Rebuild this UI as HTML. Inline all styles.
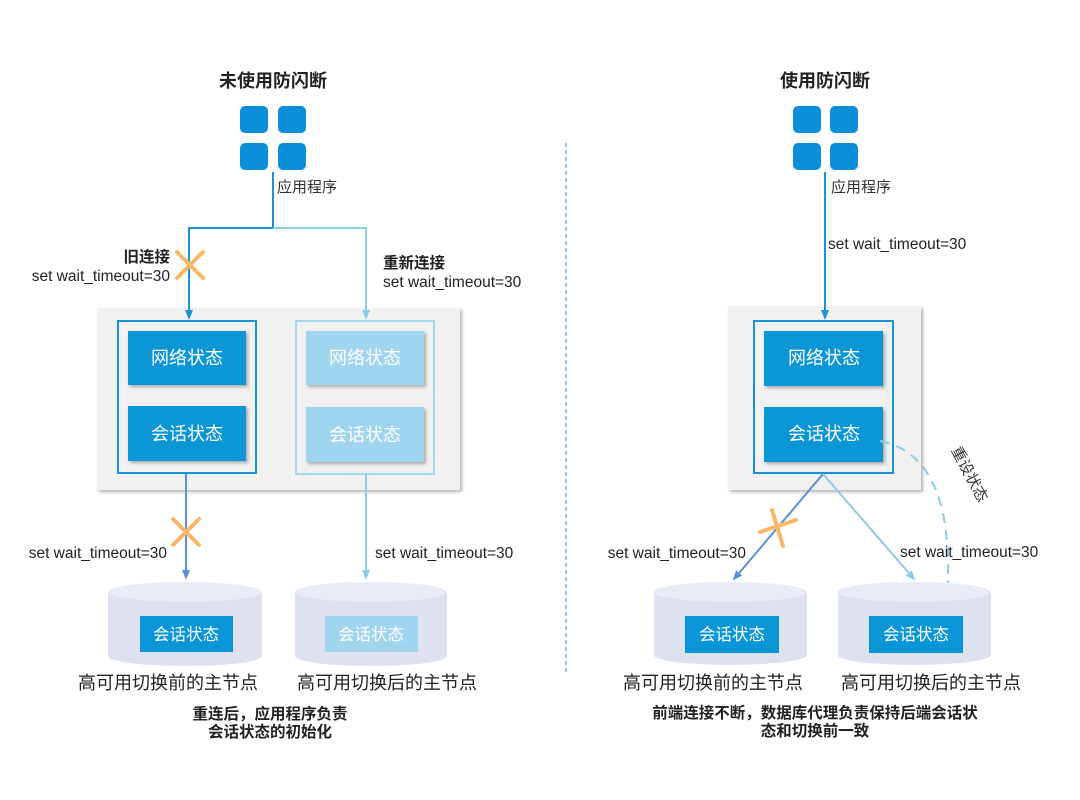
<!DOCTYPE html>
<html><head><meta charset="utf-8"><style>
html,body{margin:0;padding:0;background:#fff;width:1080px;height:800px;overflow:hidden}
text{font-family:"Liberation Sans","Noto Sans CJK SC",sans-serif}
</style></head><body>
<svg width="1080" height="800" viewBox="0 0 1080 800" xmlns="http://www.w3.org/2000/svg">
<defs>
<filter id="sh" x="-10%" y="-10%" width="130%" height="130%"><feDropShadow dx="2" dy="2" stdDeviation="1.5" flood-color="#000" flood-opacity="0.3"/></filter>
<marker id="ad" markerWidth="10" markerHeight="10" refX="8" refY="5" orient="auto" markerUnits="userSpaceOnUse"><path d="M0,1 L10,5 L0,9 Z" fill="#1a93d6"/></marker>
<marker id="al" markerWidth="10" markerHeight="10" refX="8" refY="5" orient="auto" markerUnits="userSpaceOnUse"><path d="M0,1 L10,5 L0,9 Z" fill="#8ccbe9"/></marker>
<marker id="as" markerWidth="10" markerHeight="10" refX="8" refY="5" orient="auto" markerUnits="userSpaceOnUse"><path d="M0,1 L10,5 L0,9 Z" fill="#5b8fd8"/></marker>
</defs>

<!-- LEFT -->
<text x="273" y="87" font-size="18" font-weight="bold" text-anchor="middle" fill="#222">未使用防闪断</text>
<g fill="#0a8fd8">
<rect x="240" y="106" width="28" height="27" rx="5"/><rect x="278" y="106" width="28" height="27" rx="5"/>
<rect x="240" y="143" width="28" height="27" rx="5"/><rect x="278" y="143" width="28" height="27" rx="5"/>
</g>
<text x="277" y="192" font-size="15" fill="#333">应用程序</text>

<rect x="97" y="308" width="363" height="182" fill="#f1f1f1" filter="url(#sh)"/>
<rect x="118" y="321" width="138" height="152" fill="none" stroke="#1a93d6" stroke-width="2"/>
<rect x="296" y="321" width="138" height="153" fill="none" stroke="#a6d8ef" stroke-width="2"/>
<rect x="128" y="331" width="118" height="54" fill="#0a96d6" filter="url(#sh)"/>
<rect x="128" y="406" width="118" height="55" fill="#0a96d6" filter="url(#sh)"/>
<rect x="306" y="331" width="118" height="54" fill="#9fd5ee" filter="url(#sh)"/>
<rect x="306" y="407" width="118" height="55" fill="#9fd5ee" filter="url(#sh)"/>
<g font-size="18" fill="#fff" text-anchor="middle">
<text x="187" y="364">网络状态</text><text x="187" y="440">会话状态</text>
<text x="365" y="364">网络状态</text><text x="365" y="441">会话状态</text>
</g>

<path d="M273,172 V228 H189 V318" stroke="#1a93d6" stroke-width="2" fill="none" marker-end="url(#ad)"/>
<path d="M273,228 H366 V318" stroke="#8ccbe9" stroke-width="2" fill="none" marker-end="url(#al)"/>
<g stroke="#f9b865" stroke-width="4" stroke-linecap="round"><line x1="177" y1="252" x2="203" y2="278"/><line x1="203" y1="252" x2="177" y2="278"/></g>
<text x="170" y="262" font-size="15.5" font-weight="bold" text-anchor="end" fill="#222">旧连接</text>
<text x="170" y="281" font-size="15.5" text-anchor="end" fill="#222">set wait_timeout=30</text>
<text x="383" y="268" font-size="15.5" font-weight="bold" fill="#222">重新连接</text>
<text x="383" y="287" font-size="15.5" fill="#222">set wait_timeout=30</text>

<line x1="186" y1="474" x2="186" y2="578" stroke="#5b8fd8" stroke-width="2" marker-end="url(#as)"/>
<line x1="366" y1="474" x2="366" y2="578" stroke="#8ccbe9" stroke-width="2" marker-end="url(#al)"/>
<g stroke="#f9b865" stroke-width="4" stroke-linecap="round"><line x1="173" y1="519" x2="199" y2="545"/><line x1="199" y1="519" x2="173" y2="545"/></g>
<text x="167" y="558" font-size="15.5" text-anchor="end" fill="#222">set wait_timeout=30</text>
<text x="375" y="558" font-size="15.5" fill="#222">set wait_timeout=30</text>

<g>
<path d="M108,592 V656 A77,10 0 0 0 262,656 V592 Z" fill="#dde1f0"/>
<ellipse cx="185" cy="592" rx="77" ry="10" fill="#e9ecf6"/>
<rect x="140" y="616" width="93" height="36" fill="#0a96d6"/>
<text x="186" y="640" font-size="16.5" fill="#fff" text-anchor="middle">会话状态</text>
<path d="M295,592 V656 A76,10 0 0 0 447,656 V592 Z" fill="#dde1f0"/>
<ellipse cx="371" cy="592" rx="76" ry="10" fill="#e9ecf6"/>
<rect x="325" y="616" width="93" height="36" fill="#9fd5ee"/>
<text x="371" y="640" font-size="16.5" fill="#fff" text-anchor="middle">会话状态</text>
</g>
<text x="168" y="689" font-size="18" text-anchor="middle" fill="#222">高可用切换前的主节点</text>
<text x="387" y="689" font-size="18" text-anchor="middle" fill="#222">高可用切换后的主节点</text>
<text x="270" y="719" font-size="15.5" font-weight="bold" text-anchor="middle" fill="#222">重连后，应用程序负责</text>
<text x="270" y="737" font-size="15.5" font-weight="bold" text-anchor="middle" fill="#222">会话状态的初始化</text>

<line x1="566" y1="143" x2="566" y2="672" stroke="#2a8fd0" stroke-width="1" stroke-dasharray="4,3"/>

<!-- RIGHT -->
<text x="825" y="87" font-size="18" font-weight="bold" text-anchor="middle" fill="#222">使用防闪断</text>
<g fill="#0a8fd8">
<rect x="793" y="106" width="28" height="27" rx="5"/><rect x="830" y="106" width="28" height="27" rx="5"/>
<rect x="793" y="143" width="28" height="27" rx="5"/><rect x="830" y="143" width="28" height="27" rx="5"/>
</g>
<text x="831" y="192" font-size="15" fill="#333">应用程序</text>
<text x="828" y="249" font-size="15.5" fill="#222">set wait_timeout=30</text>

<rect x="728" y="306" width="193" height="184" fill="#f1f1f1" filter="url(#sh)"/>
<rect x="754" y="321" width="139" height="152" fill="none" stroke="#1a93d6" stroke-width="2"/>
<rect x="764" y="331" width="119" height="55" fill="#0a96d6" filter="url(#sh)"/>
<rect x="764" y="407" width="119" height="55" fill="#0a96d6" filter="url(#sh)"/>
<g font-size="18" fill="#fff" text-anchor="middle">
<text x="824" y="364">网络状态</text><text x="824" y="440">会话状态</text>
</g>
<line x1="825" y1="172" x2="825" y2="318" stroke="#1a93d6" stroke-width="2" marker-end="url(#ad)"/>

<line x1="823" y1="474" x2="734" y2="579" stroke="#5b8fd8" stroke-width="2" marker-end="url(#as)"/>
<line x1="823" y1="474" x2="914" y2="579" stroke="#8ccbe9" stroke-width="2" marker-end="url(#al)"/>
<g stroke="#f9b865" stroke-width="4" stroke-linecap="round"><line x1="760" y1="532" x2="796" y2="520"/><line x1="772" y1="510" x2="783" y2="546"/></g>
<path d="M880,441 Q952,455 948,583" stroke="#8ccbe9" stroke-width="2" fill="none" stroke-dasharray="10,7"/>
<text x="0" y="0" font-size="15" fill="#333" transform="translate(951,450) rotate(62)">重设状态</text>
<text x="746" y="558" font-size="15.5" text-anchor="end" fill="#222">set wait_timeout=30</text>
<text x="900" y="557" font-size="15.5" fill="#222">set wait_timeout=30</text>

<g>
<path d="M654,592 V656 A77,10 0 0 0 807,656 V592 Z" fill="#dde1f0"/>
<ellipse cx="730" cy="592" rx="77" ry="10" fill="#e9ecf6"/>
<rect x="685" y="616" width="94" height="37" fill="#0a96d6"/>
<text x="732" y="640" font-size="16.5" fill="#fff" text-anchor="middle">会话状态</text>
<path d="M838,592 V656 A77,10 0 0 0 991,656 V592 Z" fill="#dde1f0"/>
<ellipse cx="914" cy="592" rx="77" ry="10" fill="#e9ecf6"/>
<rect x="869" y="616" width="94" height="37" fill="#0a96d6"/>
<text x="916" y="640" font-size="16.5" fill="#fff" text-anchor="middle">会话状态</text>
</g>
<text x="713" y="689" font-size="18" text-anchor="middle" fill="#222">高可用切换前的主节点</text>
<text x="931" y="689" font-size="18" text-anchor="middle" fill="#222">高可用切换后的主节点</text>
<text x="815" y="718" font-size="15.5" font-weight="bold" text-anchor="middle" fill="#222">前端连接不断，数据库代理负责保持后端会话状</text>
<text x="815" y="736" font-size="15.5" font-weight="bold" text-anchor="middle" fill="#222">态和切换前一致</text>
</svg>
</body></html>
